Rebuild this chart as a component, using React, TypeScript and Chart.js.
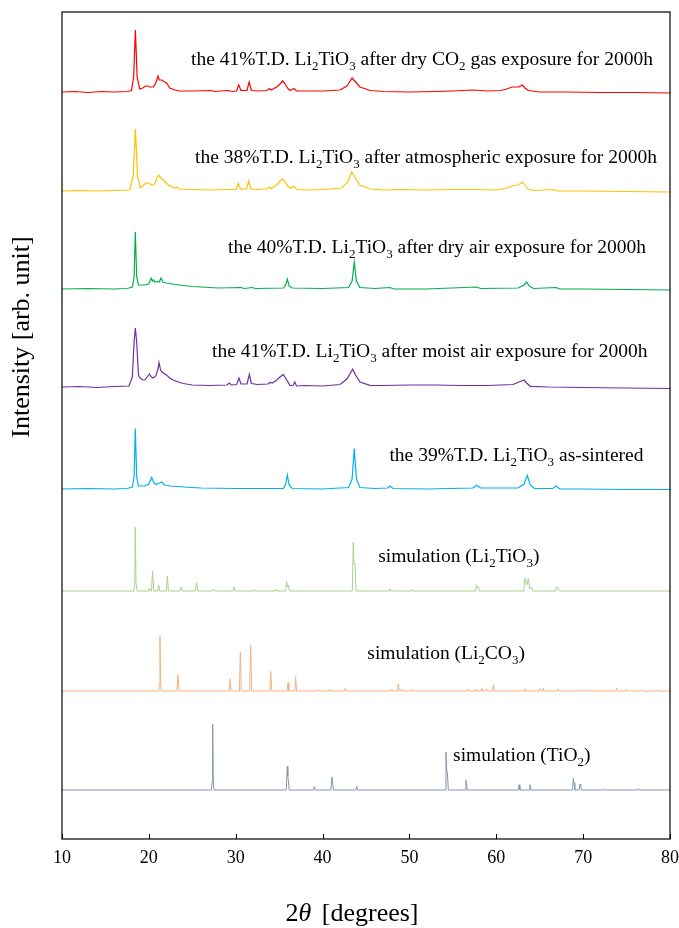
import React, { useEffect, useRef } from "react";
import { Chart, registerables } from "chart.js";

Chart.register(...registerables);

// x axis (2θ, degrees)
const xMin = 10;
const xMax = 80;
const xTicks = [10, 20, 30, 40, 50, 60, 70, 80];

// Each pattern: [2θ, relative intensity above its own baseline]
const dryCO2: number[][] = [
  [10, 0], [11.5, 0.5], [13, -0.5], [14.5, 0.5], [16, 0], [17.5, 0.5], [18.0, 1.5], [18.25, 15], [18.45, 62], [18.65, 15],
  [18.95, 3], [19.3, 4], [19.6, 6], [19.85, 6], [20.1, 5], [20.5, 5], [20.8, 9], [21.05, 16], [21.2, 12], [21.5, 12],
  [21.8, 10], [22.05, 9], [22.4, 4], [23.0, 2], [23.5, 1], [25, 1], [27.2, 1.5], [27.5, 0.5], [29.15, 1.5], [29.6, 0.5],
  [30.1, 1], [30.35, 7], [30.6, 1.5], [31.3, 1.5], [31.55, 10], [31.8, 1.5], [32.5, 1], [33.6, 1.5], [33.87, 3.5], [34.1, 2],
  [34.7, 5], [35.1, 8], [35.4, 11], [35.7, 8], [35.95, 4], [36.25, 1.5], [36.7, 3.5], [37.0, 1], [37.5, 1], [40, 1],
  [42.0, 2], [42.8, 6], [43.4, 14], [43.7, 11], [44.3, 5], [45.5, 1.5], [47, 0.5], [50, 0], [53, 0.5], [55, 1],
  [57.3, 2], [59, 1], [60.5, 1.5], [61.2, 3], [61.8, 5], [62.3, 5], [62.6, 5], [63.0, 7], [63.3, 4], [63.7, 1.5],
  [65, 0], [68, 0], [72, -0.5], [76, -0.5], [80, -1],
];

const atmospheric: number[][] = [
  [10, 0], [12, 0.5], [14, 0], [16, 0.5], [17.8, 1], [18.2, 15], [18.45, 62], [18.7, 15], [19.0, 3], [19.4, 6],
  [19.7, 8], [20.0, 8], [20.3, 6], [20.6, 6], [20.85, 11], [21.1, 16], [21.4, 13], [21.66, 11], [22.0, 8], [22.24, 6],
  [22.7, 4], [23.0, 3], [23.2, 4], [23.5, 2], [25, 1.5], [27, 1], [29.2, 1.5], [30.05, 1.5], [30.3, 7.5], [30.55, 2],
  [31.25, 2], [31.5, 10], [31.75, 2], [32.5, 1.5], [33.6, 2], [33.87, 4], [34.1, 2.5], [34.7, 6], [35.1, 10], [35.4, 12],
  [35.7, 9], [36.0, 5], [36.3, 2.5], [36.7, 5], [37.0, 1.5], [38, 1], [40, 1.5], [42.2, 3], [42.9, 9], [43.35, 19],
  [43.7, 14], [44.3, 6], [45.46, 2], [47, 1], [49, 1.5], [52, 1], [55, 1.5], [57.5, 1.5], [60, 1], [61.2, 3],
  [61.8, 5], [62.5, 6], [63.04, 9], [63.3, 6], [63.7, 1.5], [64.5, 0.5], [66.6, 1.5], [67, 0], [70, 0], [75, -0.5], [80, -1],
];

const dryAir: number[][] = [
  [10, 0], [13, 0.5], [16, 0], [17.5, 0.5], [18.1, 2], [18.3, 12], [18.44, 57], [18.6, 12], [18.8, 4], [19.5, 4],
  [20.0, 5], [20.25, 11], [20.4, 8], [20.5, 9], [20.7, 7], [21.0, 7.5], [21.2, 7], [21.4, 11], [21.6, 7], [22.0, 6],
  [23, 4.5], [24, 3.5], [25, 2.5], [26, 2], [28, 1], [30.6, 1.5], [31, 0.5], [31.9, 1.5], [32.3, 0.5], [35.5, 1],
  [35.75, 4], [35.94, 10], [36.15, 3], [36.5, 1], [40, 0.5], [43.0, 1.5], [43.4, 8], [43.65, 26.5], [43.9, 8], [44.3, 1.5],
  [46, 0.5], [47.76, 1.5], [48.2, 0], [52, 0], [57.7, 2], [58.2, 0.5], [62.5, 1], [63.2, 4], [63.5, 7], [63.8, 3],
  [64.3, 0.5], [66.87, 1.5], [67.3, 0], [70, 0], [75, -0.5], [80, -1],
];

const moistAir: number[][] = [
  [10, 0], [12, 0.5], [14, -0.5], [16, 0.5], [17.7, 1], [18.1, 10], [18.3, 45], [18.44, 59], [18.6, 45], [18.8, 12],
  [19.0, 9], [19.3, 7], [19.55, 7], [19.8, 10], [20.05, 13], [20.3, 10], [20.5, 9], [20.8, 11], [21.05, 18], [21.17, 24.5],
  [21.35, 17], [21.5, 15], [21.8, 13], [22.05, 12], [22.4, 9], [22.8, 7], [23.4, 5], [23.97, 3.5], [25, 2], [27, 1.5],
  [29.0, 2], [29.26, 4], [29.5, 2], [30.1, 2.5], [30.38, 9], [30.6, 3], [31.3, 3], [31.57, 12.5], [31.8, 3.5], [32.5, 2.5],
  [33.7, 3], [33.95, 4.5], [34.2, 4], [34.7, 6.7], [35.1, 10], [35.48, 12.5], [35.8, 8], [36.25, 1.7], [36.6, 1.5], [36.8, 5],
  [37.0, 1], [38, 1.5], [40, 1], [42.0, 2.5], [42.8, 8], [43.46, 17.7], [43.8, 12], [44.3, 5], [45.46, 1.7], [47, 1.5],
  [50, 2], [53, 2], [56, 1.5], [59, 1.5], [61.96, 2.5], [62.6, 5], [63.2, 7], [63.5, 4], [63.9, 0.7], [66, 0],
  [70, -0.5], [75, -1], [80, -1.5],
];

const asSintered: number[][] = [
  [10, 0], [13, 0.5], [16, 0], [17.5, 0.5], [18.1, 2], [18.3, 12], [18.44, 60.5], [18.6, 12], [18.8, 3], [19.5, 3],
  [20.0, 5], [20.32, 11.5], [20.6, 6], [20.82, 4.5], [21.2, 6], [21.48, 7], [21.8, 4], [22.5, 3], [24, 2], [26, 1],
  [30, 0.5], [35.5, 0.5], [35.75, 5], [35.94, 14], [36.15, 4], [36.5, 0.5], [40, 0], [43.0, 1.5], [43.4, 10], [43.65, 40.5],
  [43.9, 10], [44.3, 1.5], [46, 0.5], [47.5, 1], [47.76, 3], [48.1, 0.5], [52, 0], [57.3, 1], [57.74, 3.7], [58.2, 1],
  [62.5, 1], [63.2, 5], [63.57, 13.7], [63.9, 4], [64.4, 0.5], [66.5, 0.5], [66.87, 3], [67.3, 0], [70, 0], [75, -0.5], [80, -0.5],
];

const simLi2TiO3: number[][] = [
  [10, 0], [18.25, 0], [18.38, 8], [18.44, 64], [18.52, 8], [18.65, 0], [19.95, 0], [20.05, 3], [20.15, 0], [20.3, 0],
  [20.43, 20], [20.56, 0], [21.0, 0], [21.13, 6], [21.26, 0], [22.0, 0], [22.13, 15], [22.26, 0], [23.6, 0], [23.74, 4],
  [23.88, 0], [25.37, 0], [25.5, 8.5], [25.63, 0], [27.3, 0], [27.42, 2], [27.55, 0], [29.68, 0], [29.8, 4], [29.92, 0],
  [32.1, 0], [32.18, 1.3], [32.26, 0], [34.55, 0], [34.64, 1.3], [34.72, 0], [35.75, 0], [35.87, 9.5], [35.97, 4], [36.05, 6],
  [36.2, 0], [43.42, 0], [43.54, 49], [43.62, 27], [43.73, 27.7], [43.85, 0], [47.65, 0], [47.76, 2.2], [47.87, 0], [50.18, 0],
  [50.26, 1.3], [50.34, 0], [57.6, 0], [57.74, 6.3], [57.84, 3], [57.93, 4], [58.05, 0], [63.15, 0], [63.3, 13], [63.5, 6],
  [63.7, 12.3], [63.85, 2], [64.07, 4], [64.2, 0], [66.85, 0], [66.95, 4], [67.14, 2.7], [67.25, 0], [80, 0],
];

const simLi2CO3: number[][] = [
  [10, 0], [21.15, 0], [21.22, 8], [21.28, 55], [21.35, 8], [21.42, 0], [23.22, 0], [23.35, 16.3], [23.48, 0], [29.25, 0],
  [29.36, 12.3], [29.47, 0], [30.42, 0], [30.53, 38.7], [30.64, 0], [31.6, 0], [31.72, 45.7], [31.84, 0], [33.92, 0], [34.03, 19.7],
  [34.14, 0], [35.92, 0], [36.02, 8.3], [36.12, 0], [36.8, 0], [36.9, 14.3], [37.0, 0], [39.4, 0], [39.52, 1.3], [39.64, 0],
  [40.75, 0], [40.85, 1.7], [40.95, 0], [42.5, 0], [42.62, 2.7], [42.74, 0], [47.85, 0], [47.95, 2], [48.05, 0], [48.6, 0],
  [48.72, 7], [48.84, 0], [49.0, 0], [49.1, 2], [49.2, 0], [50.16, 0], [50.26, 2], [50.36, 0], [56.67, 0], [56.77, 2],
  [56.87, 0], [57.56, 0], [57.66, 2], [57.76, 0], [58.22, 0], [58.32, 2.7], [58.42, 0], [58.8, 0], [58.9, 2], [59.0, 0],
  [59.55, 0], [59.66, 6.3], [59.77, 0], [63.2, 0], [63.3, 2.3], [63.4, 0], [64.93, 0], [65.03, 2.3], [65.13, 0], [65.31, 0],
  [65.41, 3], [65.51, 0], [67.04, 0], [67.14, 2], [67.24, 0], [69.34, 0], [69.44, 1.3], [69.54, 0], [70.3, 0], [70.4, 1.3],
  [70.5, 0], [71.84, 0], [71.94, 1.3], [72.04, 0], [73.76, 0], [73.86, 3], [73.96, 0], [74.9, 0], [75.0, 2], [75.1, 0],
  [76.64, 0], [76.74, 1], [76.84, 0], [78.36, 0], [78.46, 1], [78.56, 0], [80, 0],
];

const simTiO2: number[][] = [
  [10, 0], [27.2, 0], [27.28, 8], [27.35, 66], [27.42, 8], [27.5, 0], [35.82, 0], [35.94, 23.6], [36.0, 14], [36.08, 8],
  [36.16, 0], [38.95, 0], [39.05, 3.7], [39.15, 0], [40.96, 0], [41.08, 13], [41.15, 8.7], [41.24, 0], [43.83, 0], [43.93, 3.7],
  [44.03, 0], [54.1, 0], [54.21, 38], [54.3, 18.7], [54.36, 18.7], [54.48, 0], [56.4, 0], [56.51, 9.7], [56.58, 5], [56.66, 0],
  [62.52, 0], [62.62, 5.3], [62.72, 0], [63.78, 0], [63.88, 5.3], [63.98, 0], [68.77, 0], [68.87, 11.7], [68.95, 7], [69.04, 0],
  [69.54, 0], [69.64, 6], [69.72, 4.3], [69.8, 0], [72.22, 0], [72.32, 1], [72.42, 0], [76.25, 0], [76.35, 1.3], [76.45, 0], [80, 0],
];

const seriesData = [dryCO2, atmospheric, dryAir, moistAir, asSintered, simLi2TiO3, simLi2CO3, simTiO2];
// vertical stacking offsets (arb. unit)
const offsets = [747, 648, 550, 452, 350, 248, 148, 49];
const yMax = 827;

const seriesLabels = [
  "the 41%T.D. Li_2TiO_3 after dry CO_2 gas exposure for 2000h",
  "the 38%T.D. Li_2TiO_3 after atmospheric exposure for 2000h",
  "the 40%T.D. Li_2TiO_3 after dry air exposure for 2000h",
  "the 41%T.D. Li_2TiO_3 after moist air exposure for 2000h",
  "the 39%T.D. Li_2TiO_3 as-sintered",
  "simulation (Li_2TiO_3)",
  "simulation (Li_2CO_3)",
  "simulation (TiO_2)",
];
// label anchors (2θ of left edge, baseline in arb. unit)
const labelX = [24.85, 25.31, 29.11, 27.27, 47.7, 46.4, 45.15, 55.03];
const labelY = [774, 676, 586, 482, 378, 277, 180, 78];

const colors = ["#ff0000", "#ffc000", "#00b050", "#7030a0", "#00b0f0", "#a9d18e", "#f4b183", "#8497b0"];
const lineWidths = [1.2, 1.2, 1.2, 1.2, 1.2, 1, 1, 1];

const FONT = '"Liberation Serif", "Times New Roman", serif';

function drawRich(ctx: CanvasRenderingContext2D, text: string, x: number, y: number, size: number) {
  const subSize = Math.round(size * 0.68);
  let cx = x;
  let i = 0;
  let buf = "";
  const flush = () => {
    if (!buf) return;
    ctx.font = `${size}px ${FONT}`;
    ctx.fillText(buf, cx, y);
    cx += ctx.measureText(buf).width;
    buf = "";
  };
  while (i < text.length) {
    if (text[i] === "_" && i + 1 < text.length) {
      flush();
      ctx.font = `${subSize}px ${FONT}`;
      ctx.fillText(text[i + 1], cx, y + size * 0.26);
      cx += ctx.measureText(text[i + 1]).width;
      i += 2;
    } else {
      buf += text[i];
      i += 1;
    }
  }
  flush();
}

const overlay = {
  id: "overlay",
  afterDraw(chart: any) {
    const { ctx, chartArea: a, scales } = chart;
    const xs = scales.x;
    const ys = scales.y;
    ctx.save();
    // frame
    ctx.strokeStyle = "#000";
    ctx.lineWidth = 1.2;
    ctx.strokeRect(a.left, a.top, a.right - a.left, a.bottom - a.top);
    // inward tick marks
    ctx.lineWidth = 1;
    for (const v of xTicks) {
      const px = Math.round(xs.getPixelForValue(v)) + 0.5;
      ctx.beginPath();
      ctx.moveTo(px, a.bottom);
      ctx.lineTo(px, a.bottom - 5);
      ctx.stroke();
    }
    // series annotations
    ctx.fillStyle = "#000";
    ctx.textBaseline = "alphabetic";
    ctx.textAlign = "left";
    seriesLabels.forEach((t, k) => {
      drawRich(ctx, t, xs.getPixelForValue(labelX[k]), ys.getPixelForValue(labelY[k]), 19.5);
    });
    // y title
    ctx.save();
    ctx.translate(22, 337);
    ctx.rotate(-Math.PI / 2);
    ctx.textAlign = "center";
    ctx.textBaseline = "middle";
    ctx.font = `26px ${FONT}`;
    ctx.fillText("Intensity [arb. unit]", 0, 0);
    ctx.restore();
    // x title: 2θ [degrees] with italic θ
    const parts = [
      { t: "2", f: `26px ${FONT}` },
      { t: "θ", f: `italic 26px ${FONT}` },
      { t: " [degrees]", f: `26px ${FONT}` },
    ];
    let total = 0;
    for (const p of parts) {
      ctx.font = p.f;
      total += ctx.measureText(p.t).width + (p.t === "θ" ? 4 : 0);
    }
    let cx = 352 - total / 2;
    ctx.textAlign = "left";
    ctx.textBaseline = "alphabetic";
    for (const p of parts) {
      ctx.font = p.f;
      ctx.fillText(p.t, cx, 921);
      cx += ctx.measureText(p.t).width + (p.t === "θ" ? 4 : 0);
    }
    ctx.restore();
  },
};

export default function App() {
  const ref = useRef<HTMLCanvasElement | null>(null);
  useEffect(() => {
    if (!ref.current) return;
    const chart = new Chart(ref.current, {
      type: "line",
      data: {
        datasets: seriesData.map((s, k) => ({
          label: seriesLabels[k],
          data: s.map(([x, v]) => ({ x, y: v + offsets[k] })),
          borderColor: colors[k],
          backgroundColor: colors[k],
          borderWidth: lineWidths[k],
          pointRadius: 0,
          tension: 0,
          fill: false,
        })),
      },
      options: {
        responsive: false,
        animation: false,
        devicePixelRatio: 1,
        layout: { padding: { left: 62, right: 9, top: 12, bottom: 0 } },
        plugins: { legend: { display: false }, tooltip: { enabled: false } },
        scales: {
          x: {
            type: "linear",
            min: xMin,
            max: xMax,
            grid: { display: false, drawTicks: false },
            border: { display: false },
            ticks: {
              stepSize: 10,
              padding: 8,
              color: "#000",
              font: { family: FONT, size: 18 },
              callback: (v: any) => String(v),
            },
            afterFit: (scale: any) => {
              scale.height = 89;
              scale.paddingLeft = 0;
              scale.paddingRight = 0;
            },
          },
          y: { display: false, min: 0, max: yMax },
        },
      },
      plugins: [overlay],
    } as any);
    return () => chart.destroy();
  }, []);
  return (
    <div style={{ position: "absolute", left: 0, top: 0, width: 679, height: 928, background: "#fff" }}>
      <canvas ref={ref} width={679} height={928} style={{ display: "block" }} />
    </div>
  );
}
